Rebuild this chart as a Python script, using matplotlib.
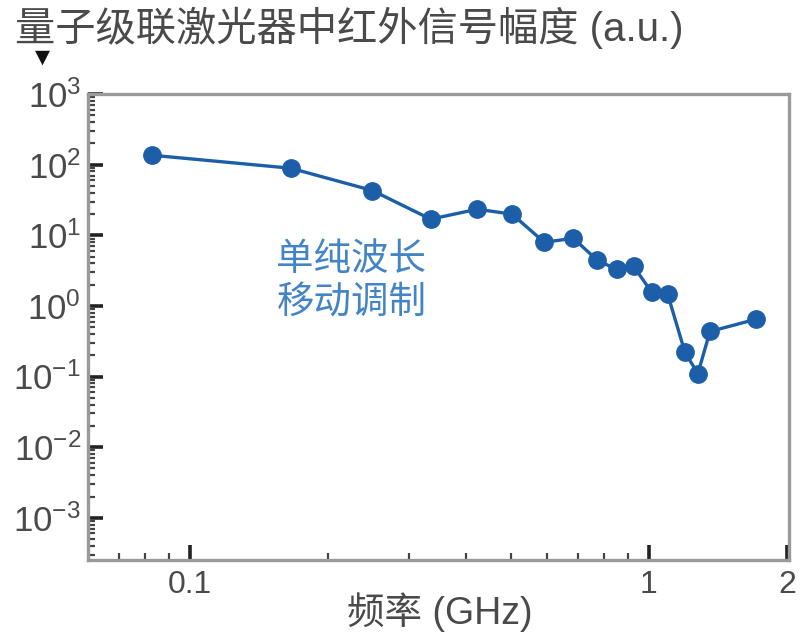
import matplotlib
matplotlib.use("Agg")
import matplotlib.pyplot as plt
from matplotlib.ticker import FixedLocator, FixedFormatter, LogLocator, NullFormatter

plt.rcParams['font.family'] = ['Liberation Sans', 'Noto Sans CJK SC', 'DejaVu Sans']
plt.rcParams['mathtext.fontset'] = 'custom'
plt.rcParams['mathtext.rm'] = 'Liberation Sans'
plt.rcParams['mathtext.default'] = 'regular'

# data
freq_ghz = [0.0826, 0.166, 0.25, 0.335, 0.423, 0.504, 0.592, 0.685, 0.773, 0.851,
            0.927, 1.016, 1.10, 1.20, 1.28, 1.36, 1.71]
amplitude = [136, 89, 43, 16.9, 23.4, 19.9, 7.96, 9.06, 4.42, 3.3,
             3.63, 1.55, 1.46, 0.219, 0.110, 0.434, 0.645]
x_ticks = [0.1, 1, 2]
x_tick_labels = ["0.1", "1", "2"]
y_ticks = [1e-3, 1e-2, 1e-1, 1e0, 1e1, 1e2, 1e3]
y_tick_labels = ["$10^{-3}$", "$10^{-2}$", "$10^{-1}$", "$10^{0}$", "$10^{1}$", "$10^{2}$", "$10^{3}$"]
title_text = "量子级联激光器中红外信号幅度 (a.u.)"
xlabel_text = "频率 (GHz)"
note_text = "单纯波长\n移动调制"
note_pos = (0.225, 2.26)

blue = "#1c5fa8"
grey_txt = "#4a4a4a"

fig = plt.figure(figsize=(8, 6.44), dpi=100)
ax = fig.add_axes([0.11, 0.130, 0.876, 0.724])

ax.plot(freq_ghz, amplitude, '-o', color=blue, lw=2.4, markersize=12.5)
ax.set_xscale('log')
ax.set_yscale('log')
ax.set_xlim(0.06, 2.02)
ax.set_ylim(2.5e-4, 1e3)

ax.xaxis.set_major_locator(FixedLocator(x_ticks))
ax.xaxis.set_major_formatter(FixedFormatter(x_tick_labels))
ax.xaxis.set_minor_locator(FixedLocator([0.07, 0.08, 0.09, 0.2, 0.3, 0.4, 0.5, 0.6, 0.7, 0.8, 0.9]))
ax.xaxis.set_minor_formatter(NullFormatter())
ax.yaxis.set_major_locator(FixedLocator(y_ticks))
ax.yaxis.set_major_formatter(FixedFormatter(y_tick_labels))
ax.yaxis.set_minor_locator(LogLocator(base=10, subs=range(2, 10)))
ax.yaxis.set_minor_formatter(NullFormatter())

for s in ['left', 'bottom', 'top', 'right']:
    ax.spines[s].set_color('#9a9a9a')
    ax.spines[s].set_linewidth(2.4)

ax.tick_params(which='major', direction='in', length=11, width=2.6, color='#222222',
               labelsize=25, labelcolor=grey_txt, pad=5, top=False, right=False)
ax.tick_params(which='minor', direction='in', length=5, width=1.6, color='#444444',
               top=False, right=False)
ax.tick_params(axis='x', which='major', pad=7, labelsize=23)

ax.text(note_pos[0], note_pos[1], note_text, ha='center', va='center', fontsize=27,
        color='#4384c6', family=['Noto Sans CJK SC'], linespacing=1.15)

fig.text(15/800, 1 - 28/644, title_text, ha='left', va='center', fontsize=29,
         color=grey_txt, family=['Liberation Sans', 'Noto Sans CJK SC'])
fig.text(42/800, 1 - 57/644, "▼", ha='center', va='center', fontsize=14, color='#111111',
         family=['DejaVu Sans'])
fig.text(440/800, 1 - 612/644, xlabel_text, ha='center', va='center', fontsize=27,
         color=grey_txt, family=['Liberation Sans', 'Noto Sans CJK SC'])

fig.savefig("out.png", dpi=100)
